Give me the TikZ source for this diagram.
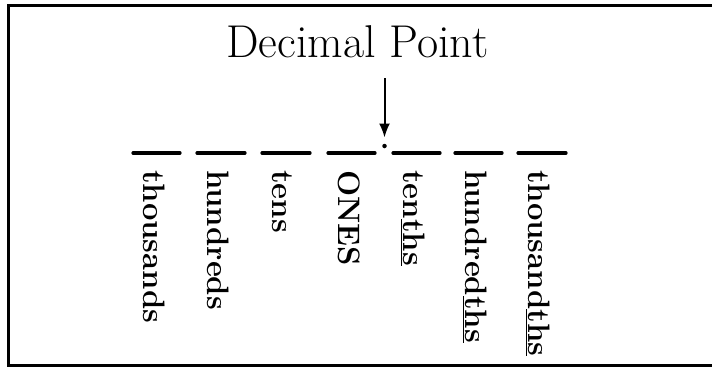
\documentclass[tikz,border=0pt]{standalone}
\usepackage{fontspec}
\usetikzlibrary{arrows.meta}
\tikzset{
  frameline/.style={line width=3pt},
  placebar/.style={line width=3.2pt, line cap=round},
  lbl/.style={font=\fontsize{31}{36}\selectfont\bfseries, inner sep=0pt, anchor=base west, rotate=-90},
  ttl/.style={font=\fontsize{46}{54}\selectfont, inner sep=0pt, anchor=base west},
  pointer/.style={line width=2pt, -{Latex[length=14pt,width=11pt]}}
}
\begin{document}
\begin{tikzpicture}[x=1pt,y=-1pt]
\useasboundingbox (0,0) rectangle (712,368);
% frame (right side runs off the picture)
\draw[frameline] (712,5) -- (8,5) -- (8,365) -- (712,365);
% title
\node[ttl] (title) at (226,57) {Decimal Point};
% place bars
\coordinate (b1a) at (133,153); \coordinate (b1b) at (180,153);
\coordinate (b2a) at (197,153); \coordinate (b2b) at (245,153);
\coordinate (b3a) at (262,153); \coordinate (b3b) at (310,153);
\coordinate (b4a) at (328,153); \coordinate (b4b) at (375,153);
\coordinate (b5a) at (393,153); \coordinate (b5b) at (440,153);
\coordinate (b6a) at (455,153); \coordinate (b6b) at (502,153);
\coordinate (b7a) at (518,153); \coordinate (b7b) at (566,153);
\foreach \i in {1,...,7} { \draw[placebar] (b\i a) -- (b\i b); }
% decimal point and arrow
\node[circle, fill, inner sep=0pt, minimum size=4.5pt] (dp) at (384.5,146) {};
\coordinate (arrtop) at (384.5,78);
\draw[pointer] (arrtop) -- ([yshift=6pt]dp.north);
% labels
\node[lbl] (l1) at (143,170) {thousands};
\node[lbl] (l2) at (207,170) {hundreds};
\node[lbl] (l3) at (272,170) {tens};
\node[lbl] (l4) at (338,170) {ONES};
\node[lbl] (l5) at (403,170) {ten\underline{ths}};
\node[lbl] (l6) at (465,170) {hundred\underline{ths}};
\node[lbl] (l7) at (528,170) {thousand\underline{ths}};
\end{tikzpicture}
\end{document}
